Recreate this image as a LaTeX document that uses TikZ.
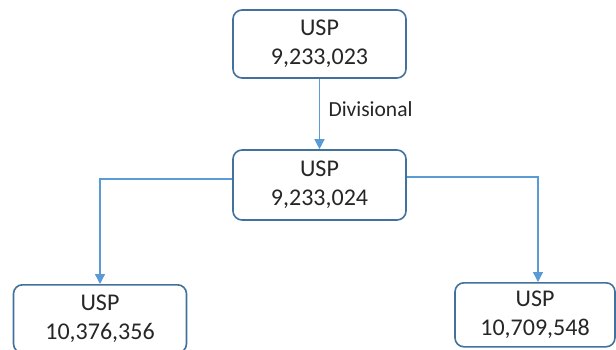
\documentclass[tikz,border=0pt]{standalone}
\usepackage{fontspec}
\setmainfont{Carlito}
\usetikzlibrary{arrows.meta}
\definecolor{boxborder}{HTML}{41719C}
\definecolor{linkblue}{HTML}{5B9BD5}
\definecolor{txt}{HTML}{262626}
\begin{document}
\begin{tikzpicture}[x=1pt,y=-1pt,
  box/.style={draw=boxborder, line width=1.6pt, rounded corners=9pt, fill=white,
    text=txt, align=center, inner sep=0pt,
    font=\fontsize{24}{29}\selectfont},
  link/.style={draw=linkblue, line width=1.4pt,
    -{Triangle[width=10pt,length=10pt]}}]
\useasboundingbox (0,0) rectangle (616,350);
\node[box, minimum width=173pt, minimum height=68pt] (top) at (319.5,44) {USP\\9,233,023};
\node[box, minimum width=173pt, minimum height=70pt] (mid) at (319.5,185) {USP\\9,233,024};
\node[box, minimum width=173pt, minimum height=68pt, anchor=north] (left) at (100,284) {USP\\10,376,356};
\node[box, minimum width=160pt, minimum height=64pt, anchor=north] (right) at (535,282) {USP\\10,709,548};
\draw[link] (top.south) -- (mid.north)
  node[pos=0.43, right=5pt, text=txt, font=\fontsize{21.5}{24}\selectfont] (lbl) {Divisional};
\draw[link] (mid.west |- {(0,179)}) -| ([xshift=0pt]left.north);
\draw[link] (mid.east |- {(0,177)}) -| ([xshift=3pt]right.north);
\end{tikzpicture}
\end{document}
